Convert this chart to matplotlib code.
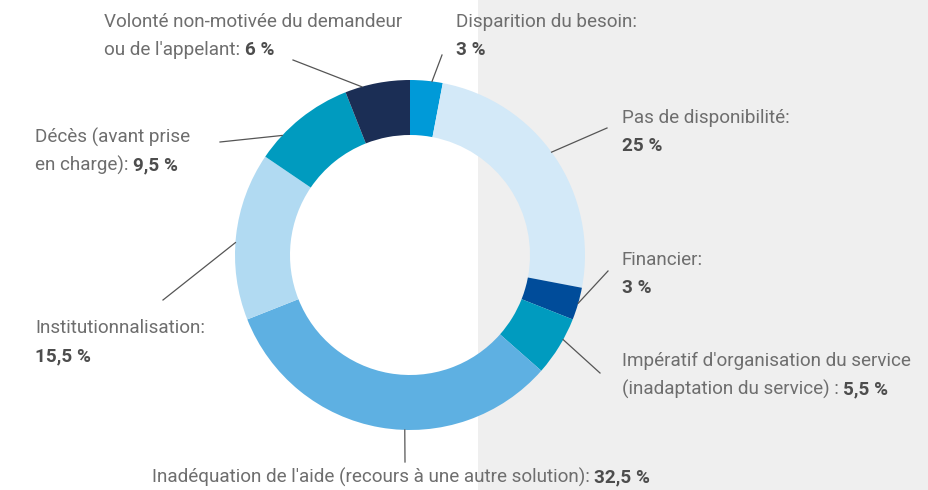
import numpy as np
import matplotlib
matplotlib.use("Agg")
import matplotlib.pyplot as plt
from matplotlib.patches import Rectangle

# ---- data ----
categories = ["Disparition du besoin", "Pas de disponibilité", "Financier",
              "Impératif d'organisation du service", "Inadéquation de l'aide",
              "Institutionnalisation", "Décès", "Volonté non-motivée"]
values = [3, 25, 3, 5.5, 32.5, 15.5, 9.5, 6]
value_labels = ["3 %", "25 %", "3 %", "5,5 %", "32,5 %", "15,5 %", "9,5 %", "6 %"]
colors = ["#009ad8", "#d3e9f8", "#004c9a", "#009bbf", "#5eb0e2",
          "#b1daf2", "#009bbf", "#1b2e55"]

# label text lines: list of lines, each line list of (text, bold)
label_lines = [
    [[("Disparition du besoin:", False)], [(value_labels[0], True)]],
    [[("Pas de disponibilité:", False)], [(value_labels[1], True)]],
    [[("Financier:", False)], [(value_labels[2], True)]],
    [[("Impératif d'organisation du service", False)],
     [("(inadaptation du service) : ", False), (value_labels[3], True)]],
    [[("Inadéquation de l'aide (recours à une autre solution): ", False), (value_labels[4], True)]],
    [[("Institutionnalisation:", False)], [(value_labels[5], True)]],
    [[("Décès (avant prise", False)], [("en charge): ", False), (value_labels[6], True)]],
    [[("Volonté non-motivée du demandeur", False)],
     [("ou de l'appelant: ", False), (value_labels[7], True)]],
]

# ---- layout (pixels, top-left origin) ----
W, H = 929, 490
CX, CY = 410, 255
R_OUT, RING = 175, 55
text_pos = [(456, 22), (622, 118), (622, 260), (622, 361), (152, 477),
            (35, 328), (35, 137), (104, 22)]
line_gap = 28
leader_frac = [0.67, 0.48, 0.48, 0.37, 0.43, 0.46, 0.26, 0.26]
leader_end = [(442, 55), (607, 128), (608, 271), (600, 373), (405, 462),
              (163, 300), (220, 142), (293, 60)]

TXT = "#6e6e6e"
TXT_B = "#4d4d4d"
FS = 13.6
FONT = ["Roboto", "DejaVu Sans"]

fig = plt.figure(figsize=(W / 100, H / 100), dpi=100)
ax = fig.add_axes([0, 0, 1, 1])
ax.set_xlim(0, W)
ax.set_ylim(0, H)
ax.set_aspect("equal")
ax.axis("off")

def Y(y):
    return H - y

ax.add_patch(Rectangle((478, 0), W - 478, H, color="#efefef", zorder=0, lw=0))

wedges, _ = ax.pie(values, colors=colors, startangle=90, counterclock=False,
                   radius=R_OUT, center=(CX, Y(CY)),
                   wedgeprops=dict(width=RING, linewidth=0), frame=True)
ax.set_xlim(0, W)
ax.set_ylim(0, H)
ax.axis("off")

# leader lines
for w, f, (ex, ey) in zip(wedges, leader_frac, leader_end):
    t1, t2 = w.theta1, w.theta2
    ang = np.deg2rad(t2 - f * (t2 - t1))
    sx = CX + R_OUT * np.cos(ang)
    sy = Y(CY) + R_OUT * np.sin(ang)
    ax.plot([sx, ex], [sy, Y(ey)], color="#555555", lw=0.9, zorder=3)

fig.canvas.draw()
renderer = fig.canvas.get_renderer()
inv = ax.transData.inverted()

for (x0, y0), lines in zip(text_pos, label_lines):
    for i, parts in enumerate(lines):
        x = x0
        y = Y(y0 + i * line_gap)
        for txt, bold in parts:
            t = ax.text(x, y, txt, fontsize=FS, family=FONT,
                        fontweight="bold" if bold else "normal",
                        color=TXT_B if bold else TXT, va="center", ha="left")
            bb = t.get_window_extent(renderer=renderer)
            x = inv.transform((bb.x1, bb.y0))[0]

fig.savefig("out.png", dpi=100)
